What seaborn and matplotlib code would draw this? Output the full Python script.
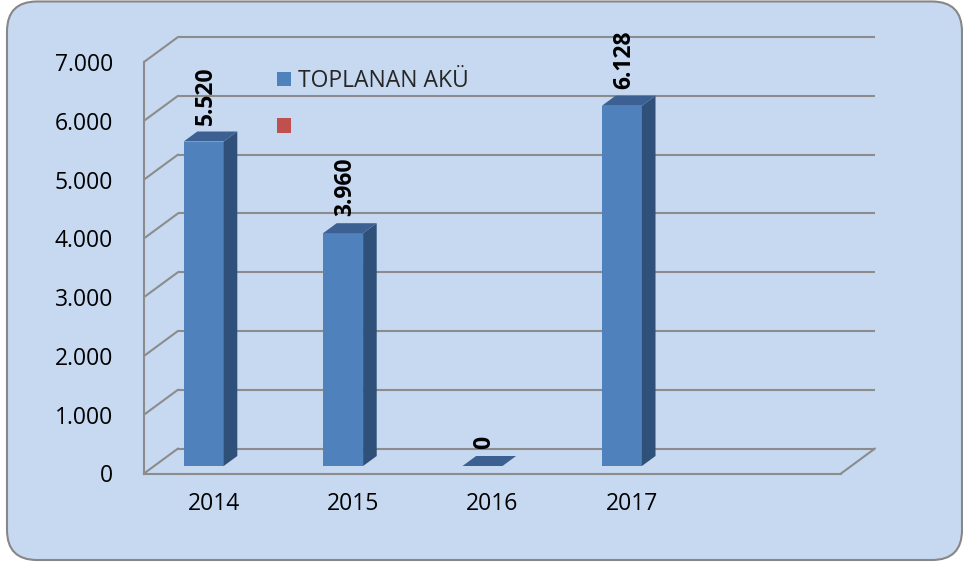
import numpy as np
import matplotlib
matplotlib.use("Agg")
import matplotlib.pyplot as plt
import seaborn as sns
from matplotlib.patches import Polygon, FancyBboxPatch, Patch
from matplotlib.transforms import IdentityTransform

# ---------------- data ----------------
categories = ["2014", "2015", "2016", "2017"]
values = [5520, 3960, 0, 6128]
value_labels = ["5.520", "3.960", "0", "6.128"]
y_ticks = [0, 1000, 2000, 3000, 4000, 5000, 6000, 7000]
y_tick_labels = ["0", "1.000", "2.000", "3.000", "4.000", "5.000", "6.000", "7.000"]
series_names = ["TOPLANAN AKÜ", " "]

# ---------------- style ----------------
W, H = 963, 563
sns.set_style("white")
plt.rcParams["font.family"] = ["Open Sans", "DejaVu Sans"]

FRONT = "#4F81BD"
SIDE = "#2F5078"
TOP = "#3C6092"
RED = "#C0504D"
GRID = "#8C8C8C"
BG = "#C6D9F1"
LW = 1.5
FS = 16.5

fig = plt.figure(figsize=(W / 100, H / 100), dpi=100)
fig.patch.set_facecolor("white")

bg = FancyBboxPatch((7, 3), 955, 558.5, boxstyle="round,pad=0,rounding_size=30",
                    transform=IdentityTransform(), facecolor=BG,
                    edgecolor="#878787", linewidth=1.5, zorder=-5)
fig.add_artist(bg)


def px_axes(x0, x1, ybot, ytop):
    return fig.add_axes([x0 / W, 1 - ybot / H, (x1 - x0) / W, (ybot - ytop) / H])


n_slots = 5
xlim = (-0.5, n_slots - 0.5)
ylim = (0, 7000)

ax_f = px_axes(144, 841, 473.5, 62)     # front plane (axes)
ax_b = px_axes(134, 831, 466, 54.5)     # bar front faces
for a in (ax_f, ax_b):
    a.set_facecolor("none")
    a.set_xlim(xlim)
    a.set_ylim(ylim)

px_x = 697 / n_slots
px_y = 411.5 / 7000
DX, DY = 34 / px_x, 25 / px_y          # back wall offset
BDX, BDY = 13.6 / px_x, 10 / px_y      # bar depth

# back wall gridlines + left wall diagonals
for v in y_ticks:
    ax_f.plot([xlim[0] + DX, xlim[1] + DX], [v + DY, v + DY], color=GRID, lw=LW,
              clip_on=False, solid_capstyle="butt")
    ax_f.plot([xlim[0], xlim[0] + DX], [v, v + DY], color=GRID, lw=LW, clip_on=False)
ax_f.plot([xlim[1], xlim[1] + DX], [0, DY], color=GRID, lw=LW, clip_on=False)

for s in ("top", "right"):
    ax_f.spines[s].set_visible(False)
for s in ("left", "bottom"):
    ax_f.spines[s].set_color(GRID)
    ax_f.spines[s].set_linewidth(LW)

ax_f.set_yticks(y_ticks, y_tick_labels)
ax_f.tick_params(axis="y", length=5.8, width=LW, color=GRID, pad=16.5,
                 labelsize=FS, labelcolor="black")
ax_f.set_xticks(np.arange(n_slots + 1) - 0.5, [""] * (n_slots + 1))
ax_f.tick_params(axis="x", which="major", length=7.2, width=LW, color=GRID)
ax_f.set_xticks(np.arange(len(categories)), categories, minor=True)
ax_f.tick_params(axis="x", which="minor", length=0, pad=13, labelsize=FS,
                 labelcolor="black")

# bars
sns.barplot(x=categories, y=values, ax=ax_b, color=FRONT, saturation=1,
            width=0.287, linewidth=0)
ax_b.set_xlim(xlim)
ax_b.set_ylim(ylim)
ax_b.axis("off")

for p, lbl in zip(list(ax_b.patches), value_labels):
    x0, w, h = p.get_x(), p.get_width(), p.get_height()
    x1 = x0 + w
    side = Polygon([(x1, 0), (x1 + BDX, BDY), (x1 + BDX, h + BDY), (x1, h)],
                   closed=True, facecolor=SIDE, edgecolor="none", clip_on=False)
    top = Polygon([(x0, h), (x1, h), (x1 + BDX, h + BDY), (x0 + BDX, h + BDY)],
                  closed=True, facecolor=TOP, edgecolor="none", clip_on=False)
    ax_b.add_patch(side)
    ax_b.add_patch(top)
    ax_b.annotate(lbl, (x0 + w / 2, h), xytext=(1.5, 12.2), textcoords="offset points",
                  rotation=90, ha="center", va="bottom", fontweight="bold",
                  fontsize=FS, color="black", annotation_clip=False)

handles = [Patch(facecolor=FRONT, edgecolor="none"), Patch(facecolor=RED, edgecolor="none")]
ax_f.legend(handles, series_names, loc="upper left",
            bbox_to_anchor=(277 / W, 1 - 69 / H), bbox_transform=fig.transFigure,
            frameon=False, fontsize=FS, handlelength=0.61, handleheight=0.61,
            handletextpad=0.3, borderpad=0, borderaxespad=0, labelspacing=1.0)

fig.savefig("out.png", dpi=100, facecolor="white")
